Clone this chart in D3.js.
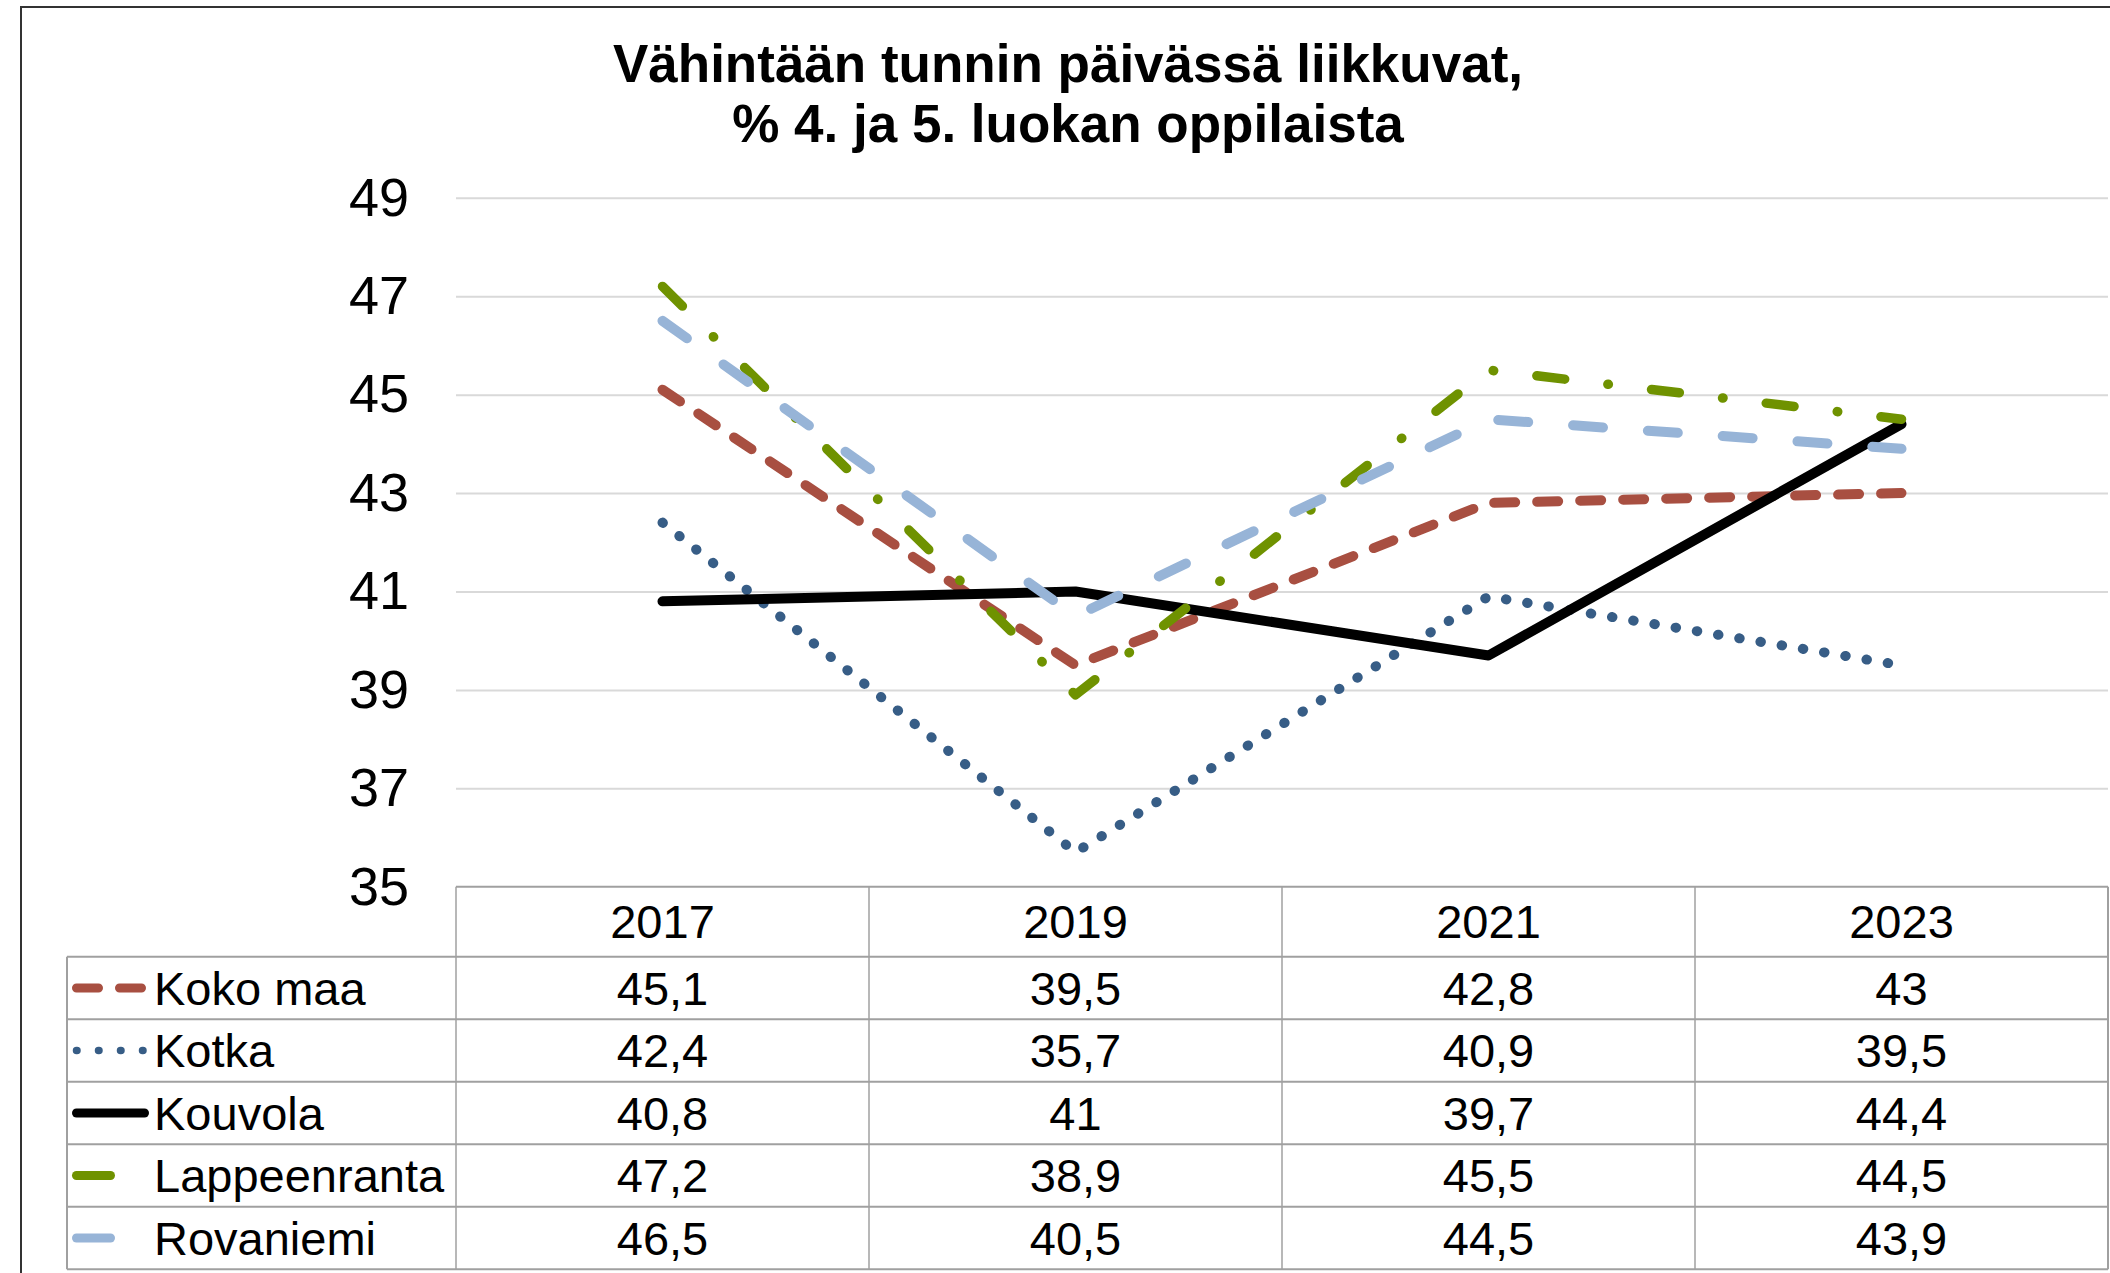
<!DOCTYPE html>
<html>
<head>
<meta charset="utf-8">
<script src="https://cdn.jsdelivr.net/npm/d3@7"></script>
<style>
  body { margin: 0; background: #fff; }
  svg { display: block; font-family: "Liberation Sans", Arial, sans-serif; }
</style>
</head>
<body>
<div id="chart"></div>
<script>
// Data
const years = ["2017", "2019", "2021", "2023"];
const seriesNames = ["Koko maa", "Kotka", "Kouvola", "Lappeenranta", "Rovaniemi"];
const kokoMaa = [45.1, 39.5, 42.8, 43];
const kotka = [42.4, 35.7, 40.9, 39.5];
const kouvola = [40.8, 41, 39.7, 44.4];
const lappeenranta = [47.2, 38.9, 45.5, 44.5];
const rovaniemi = [46.5, 40.5, 44.5, 43.9];
const yTicks = [35, 37, 39, 41, 43, 45, 47, 49];

const seriesValues = [kokoMaa, kotka, kouvola, lappeenranta, rovaniemi];

// Line styles per series
const styles = [
  { color: "#a84f41", dash: "21,22", w: 10 },
  { color: "#375d86", dash: "0.5,21", w: 10 },
  { color: "#000000", dash: null, w: 10 },
  { color: "#6f9200", dash: "28,43.5,0.5,43.5", w: 9.5 },
  { color: "#97b4d7", dash: "30,45", w: 10 }
];

// legend keys: start/end x, dash pattern, width
const keys = [
  { x2: 141.5, dash: "22,21", w: 9 },
  { x2: 143, dash: "0.5,21.5", w: 7.5 },
  { x2: 144.5, dash: null, w: 9 },
  { x2: 110.5, dash: null, w: 9 },
  { x2: 110.5, dash: null, w: 9 }
];

const width = 2110, height = 1273;
const plot = { left: 456, right: 2108, top: 197.8, bottom: 886.8 };
const headerH = 70, rowH = 62.5, tableLeft = 67;

const svg = d3.select("#chart")
  .append("svg")
  .attr("width", width)
  .attr("height", height);

// Outer frame (left and top edges visible)
svg.append("path")
  .attr("d", `M21,${height} L21,7 L${width},7`)
  .attr("fill", "none")
  .attr("stroke", "#333")
  .attr("stroke-width", 2);

// Title
const title = svg.append("text")
  .attr("text-anchor", "middle")
  .attr("font-weight", "bold")
  .attr("font-size", 53);
title.append("tspan").attr("x", 1068).attr("y", 82).text("Vähintään tunnin päivässä liikkuvat,");
title.append("tspan").attr("x", 1068).attr("y", 142).text("% 4. ja 5. luokan oppilaista");

// Scales
const x = d3.scaleBand()
  .domain(years)
  .range([plot.left, plot.right]);

const y = d3.scaleLinear()
  .domain([35, 49])
  .range([plot.bottom, plot.top]);

// Gridlines + y labels
const yAxis = svg.append("g")
  .attr("transform", `translate(${plot.left},0)`)
  .call(d3.axisLeft(y)
    .tickValues(yTicks)
    .tickSize(-(plot.right - plot.left))
    .tickPadding(47)
    .tickFormat(d3.format("d")));
yAxis.select(".domain").remove();
yAxis.selectAll(".tick line")
  .attr("stroke", "#d9d9d9")
  .attr("stroke-width", 2)
  .filter(d => d === 35).remove();
yAxis.selectAll(".tick text")
  .attr("font-size", 54)
  .attr("fill", "#000")
  .attr("font-family", "Liberation Sans, Arial, sans-serif");

// Lines
const line = d3.line()
  .x((d, i) => x(years[i]) + x.bandwidth() / 2)
  .y(d => y(d));

svg.append("g")
  .selectAll("path")
  .data(seriesValues)
  .join("path")
  .attr("d", d => line(d))
  .attr("fill", "none")
  .attr("stroke", (d, i) => styles[i].color)
  .attr("stroke-width", (d, i) => styles[i].w)
  .attr("stroke-linecap", "round")
  .attr("stroke-linejoin", "round")
  .attr("stroke-dasharray", (d, i) => styles[i].dash);

// Data table
const table = svg.append("g");
const tableTop = plot.bottom;
const tableBottom = tableTop + headerH + rowH * seriesNames.length;
const gridColor = "#a0a0a0";

// horizontal lines
table.append("line")
  .attr("x1", plot.left).attr("x2", plot.right)
  .attr("y1", tableTop).attr("y2", tableTop)
  .attr("stroke", gridColor).attr("stroke-width", 2);
seriesNames.forEach((n, i) => {
  const yy = tableTop + headerH + rowH * i;
  table.append("line")
    .attr("x1", tableLeft).attr("x2", plot.right)
    .attr("y1", yy).attr("y2", yy)
    .attr("stroke", gridColor).attr("stroke-width", 2);
});
table.append("line")
  .attr("x1", tableLeft).attr("x2", plot.right)
  .attr("y1", tableBottom).attr("y2", tableBottom)
  .attr("stroke", gridColor).attr("stroke-width", 2);

// vertical lines
table.append("line")
  .attr("x1", tableLeft).attr("x2", tableLeft)
  .attr("y1", tableTop + headerH).attr("y2", tableBottom)
  .attr("stroke", gridColor).attr("stroke-width", 2);
years.forEach(yr => {
  table.append("line")
    .attr("x1", x(yr)).attr("x2", x(yr))
    .attr("y1", tableTop).attr("y2", tableBottom)
    .attr("stroke", gridColor).attr("stroke-width", 1.5);
});
table.append("line")
  .attr("x1", plot.right).attr("x2", plot.right)
  .attr("y1", tableTop).attr("y2", tableBottom)
  .attr("stroke", gridColor).attr("stroke-width", 2);

// header years
table.selectAll(".year")
  .data(years)
  .join("text")
  .attr("class", "year")
  .attr("x", d => x(d) + x.bandwidth() / 2)
  .attr("y", tableTop + headerH / 2)
  .attr("dy", "0.35em")
  .attr("text-anchor", "middle")
  .attr("font-size", 47)
  .text(d => d);

const fmt = v => String(v).replace(".", ",");

seriesNames.forEach((name, i) => {
  const cy = tableTop + headerH + rowH * i + rowH / 2;
  const k = keys[i];

  // legend key
  table.append("line")
    .attr("x1", 76.5).attr("x2", k.x2)
    .attr("y1", cy).attr("y2", cy)
    .attr("stroke", styles[i].color)
    .attr("stroke-width", k.w)
    .attr("stroke-linecap", "round")
    .attr("stroke-dasharray", k.dash);

  table.append("text")
    .attr("x", 154)
    .attr("y", cy)
    .attr("dy", "0.35em")
    .attr("font-size", 47)
    .text(name);

  table.selectAll(null)
    .data(seriesValues[i])
    .join("text")
    .attr("x", (d, j) => x(years[j]) + x.bandwidth() / 2)
    .attr("y", cy)
    .attr("dy", "0.35em")
    .attr("text-anchor", "middle")
    .attr("font-size", 47)
    .text(d => fmt(d));
});
</script>
</body>
</html>
